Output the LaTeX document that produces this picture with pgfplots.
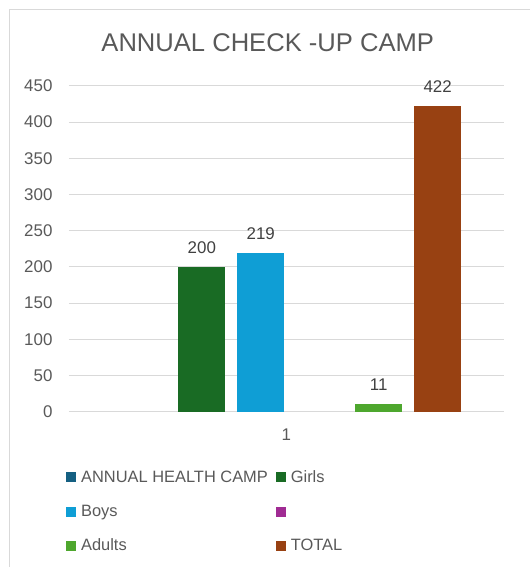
\documentclass[border=0pt]{standalone}
\usepackage{fontspec}
\setmainfont{Liberation Sans}
\usepackage{pgfplots}
\pgfplotsset{compat=1.18}

\definecolor{txt}{HTML}{595959}
\definecolor{lbl}{HTML}{404040}
\definecolor{gridc}{HTML}{D9D9D9}
\definecolor{cA}{HTML}{156082}
\definecolor{cGirls}{HTML}{196B24}
\definecolor{cBoys}{HTML}{0F9ED5}
\definecolor{cM}{HTML}{A02B93}
\definecolor{cAdults}{HTML}{4EA72E}
\definecolor{cTotal}{HTML}{984112}

\begin{document}
\begin{tikzpicture}
% page and chart frame
\path (0bp,0bp) rectangle (530bp,-567bp);
\draw[gridc, line width=1pt] (10bp,-567bp) -- (10bp,-10bp) -- (530bp,-10bp);
\node[txt, font=\fontsize{25.7}{30}\selectfont] at (268bp,-43bp) {ANNUAL CHECK -UP CAMP};

\begin{axis}[
    at={(69bp,-412bp)}, anchor=south west,
    scale only axis,
    width=435bp, height=326bp,
    xmin=0.5, xmax=1.5,
    ymin=0, ymax=450,
    ytick={0,50,...,450},
    xtick={1},
    ybar, bar width=47bp,
    axis line style={draw=none},
    major tick length=0pt,
    ymajorgrids,
    grid style={gridc, line width=1pt},
    /pgf/number format/assume math mode=true,
    tick label style={txt, font=\fontsize{17}{20}\selectfont},
    yticklabel style={xshift=-13bp},
    xticklabel style={yshift=-14bp},
    nodes near coords,
    every node near coord/.append style={lbl, font=\fontsize{17}{20}\selectfont, yshift=10bp},
    legend columns=2,
    legend cell align=left,
    legend style={at={(0,0)}, anchor=north west, xshift=-6bp, yshift=-55bp,
        draw=none, fill=none, text=txt, font=\fontsize{16.5}{19}\selectfont,
        row sep=17bp,
        /tikz/every odd column/.append style={column sep=3bp},
        /tikz/every even column/.append style={column sep=6bp}},
    legend image code/.code={\fill[#1] (0bp,-5bp) rectangle (10bp,5bp);},
]
\addlegendimage{fill=cA, draw=none}
\addlegendentry{ANNUAL HEALTH CAMP}
\addplot[fill=cGirls, draw=none, bar shift=-84.5bp] coordinates {(1,200)};
\addlegendentry{Girls}
\addplot[fill=cBoys, draw=none, bar shift=-25.5bp] coordinates {(1,219)};
\addlegendentry{Boys}
\addlegendimage{fill=cM, draw=none}
\addlegendentry{}
\addplot[fill=cAdults, draw=none, bar shift=92.5bp] coordinates {(1,11)};
\addlegendentry{Adults}
\addplot[fill=cTotal, draw=none, bar shift=151.5bp] coordinates {(1,422)};
\addlegendentry{TOTAL}
\end{axis}
\end{tikzpicture}
\end{document}
